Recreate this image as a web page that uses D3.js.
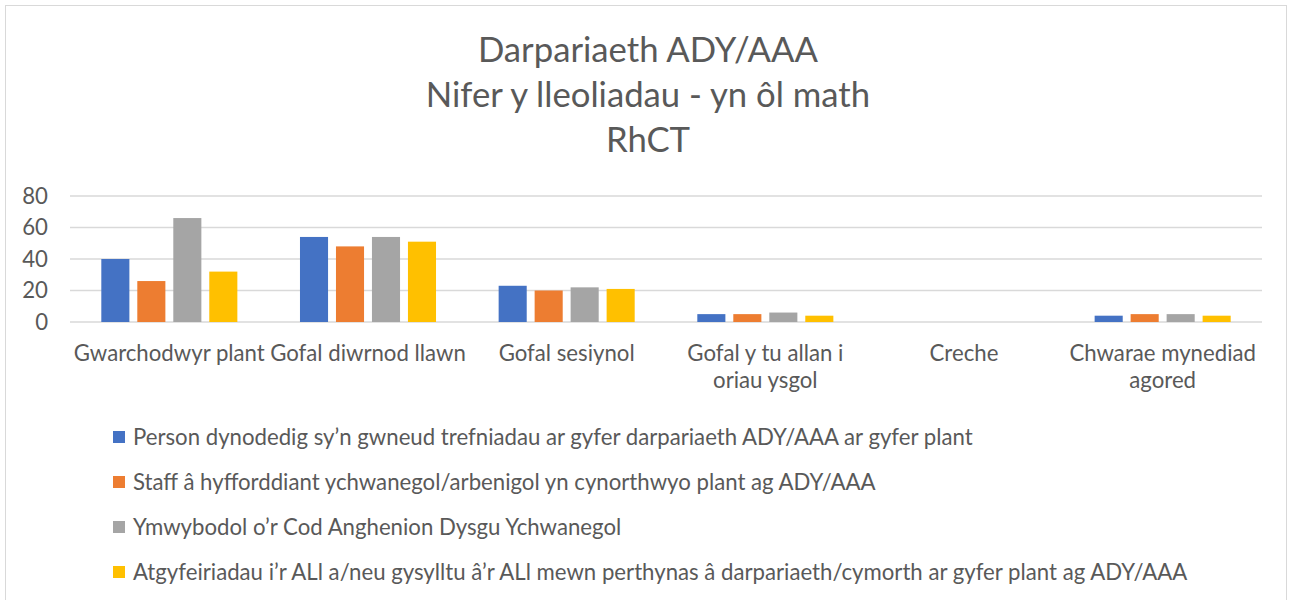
<!DOCTYPE html>
<html>
<head>
<meta charset="utf-8">
<script src="https://cdn.jsdelivr.net/npm/d3@7"></script>
<style>
  body { margin: 0; background: #fff; }
  text { font-family: Lato, "Open Sans", sans-serif; fill: #595959; }
</style>
</head>
<body>
<div id="chart"></div>
<script>
// data
const categories = [
  ["Gwarchodwyr plant"],
  ["Gofal diwrnod llawn"],
  ["Gofal sesiynol"],
  ["Gofal y tu allan i", "oriau ysgol"],
  ["Creche"],
  ["Chwarae mynediad", "agored"]
];
const seriesNames = [
  "Person dynodedig sy’n gwneud trefniadau ar gyfer darpariaeth ADY/AAA ar gyfer plant",
  "Staff â hyfforddiant ychwanegol/arbenigol yn cynorthwyo plant ag ADY/AAA",
  "Ymwybodol o’r Cod Anghenion Dysgu Ychwanegol",
  "Atgyfeiriadau i’r ALl a/neu gysylltu â’r ALl mewn perthynas â darpariaeth/cymorth ar gyfer plant ag ADY/AAA"
];
const personValues = [40, 54, 23, 5, 0, 4];
const staffValues = [26, 48, 20, 5, 0, 5];
const codValues = [66, 54, 22, 6, 0, 5];
const referralValues = [32, 51, 21, 4, 0, 4];
const yTicks = [0, 20, 40, 60, 80];
const titleLines = ["Darpariaeth ADY/AAA", "Nifer y lleoliadau - yn ôl math", "RhCT"];
const colors = ["#4472C4", "#ED7D31", "#A5A5A5", "#FFC000"];

const series = [personValues, staffValues, codValues, referralValues];

const W = 1290, H = 600;
const plot = {left: 70, right: 1262, top: 196, bottom: 322};
const fs = 22.2;

const svg = d3.select("#chart")
    .append("svg")
    .attr("width", W)
    .attr("height", H);

// outer chart border
svg.append("rect")
    .attr("x", 5.5).attr("y", 5.5)
    .attr("width", W - 9).attr("height", H + 10)
    .attr("fill", "none")
    .attr("stroke", "#D9D9D9");

// title
svg.append("g").selectAll("text")
    .data(titleLines)
    .join("text")
    .attr("x", 648)
    .attr("y", (d, i) => 62 + i * 45)
    .attr("text-anchor", "middle")
    .attr("font-size", 34.7)
    .text(d => d);

const x0 = d3.scaleBand()
    .domain(d3.range(categories.length))
    .range([plot.left, plot.right]);

const x1 = d3.scaleBand()
    .domain(d3.range(series.length))
    .range([0, x0.bandwidth()])
    .paddingInner(0.22)
    .paddingOuter(0.87);

const y = d3.scaleLinear()
    .domain([0, 80])
    .range([plot.bottom, plot.top]);

// gridlines
svg.append("g")
    .selectAll("line")
    .data(yTicks)
    .join("line")
    .attr("x1", plot.left).attr("x2", plot.right)
    .attr("y1", d => y(d)).attr("y2", d => y(d))
    .attr("stroke", "#D9D9D9")
    .attr("stroke-width", 1.3);

// y axis labels
const yAxis = svg.append("g")
    .attr("transform", `translate(${plot.left - 22},0)`)
    .call(d3.axisLeft(y).tickValues(yTicks).tickSize(0).tickPadding(0));
yAxis.select(".domain").remove();
yAxis.attr("font-family", null);
yAxis.selectAll("text")
    .attr("font-size", fs)
    .attr("fill", null);

// bars
const groups = svg.append("g")
    .selectAll("g")
    .data(series)
    .join("g")
    .attr("fill", (d, i) => colors[i]);

groups.each(function (vals, si) {
    d3.select(this).selectAll("rect")
        .data(vals)
        .join("rect")
        .attr("x", (d, ci) => x0(ci) + x1(si))
        .attr("width", x1.bandwidth())
        .attr("y", d => y(d))
        .attr("height", d => y(0) - y(d));
});

// x labels
const xl = svg.append("g")
    .selectAll("text")
    .data(categories)
    .join("text")
    .attr("x", (d, i) => x0(i) + x0.bandwidth() / 2)
    .attr("y", 361)
    .attr("text-anchor", "middle")
    .attr("font-size", fs);
xl.selectAll("tspan")
    .data(d => d)
    .join("tspan")
    .attr("x", function () { return d3.select(this.parentNode).attr("x"); })
    .attr("dy", (d, i) => i === 0 ? 0 : 27)
    .text(d => d);

// legend
const legend = svg.append("g")
    .selectAll("g")
    .data(seriesNames)
    .join("g")
    .attr("transform", (d, i) => `translate(113, ${437 + i * 45})`);
legend.append("rect")
    .attr("x", 0).attr("y", -6)
    .attr("width", 12).attr("height", 12)
    .attr("fill", (d, i) => colors[i]);
legend.append("text")
    .attr("x", 20)
    .attr("y", 0)
    .attr("dy", "0.35em")
    .attr("font-size", fs)
    .text(d => d);
</script>
</body>
</html>
